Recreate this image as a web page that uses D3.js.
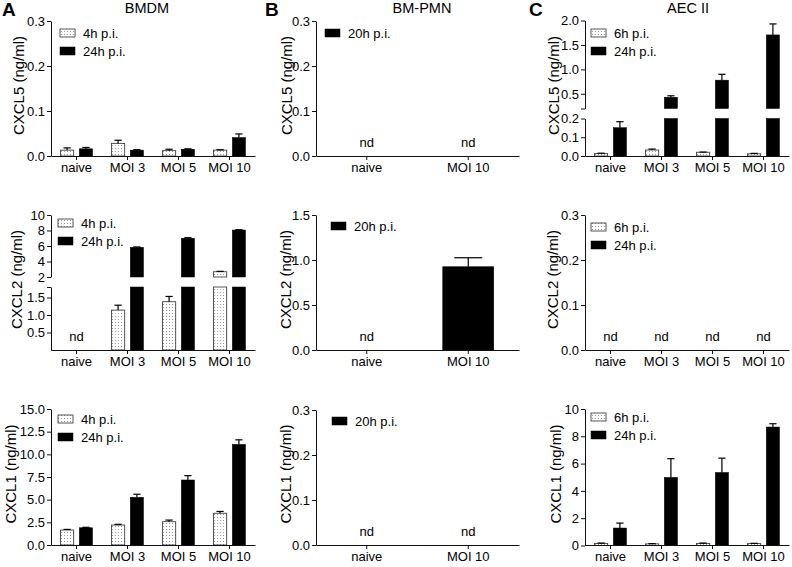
<!DOCTYPE html>
<html><head><meta charset="utf-8">
<script src="https://cdn.jsdelivr.net/npm/d3@7"></script>
<style>body{margin:0;background:#fff} svg{display:block} text{font-family:"Liberation Sans",Arial,Helvetica,sans-serif;fill:#000}</style>
</head><body><svg id="c" width="792" height="567"></svg>
<script>
// ---------- DATA ----------
const cats4 = ["naive", "MOI 3", "MOI 5", "MOI 10"];
const cats2 = ["naive", "MOI 10"];
const colTitles = ["BMDM", "BM-PMN", "AEC II"];
const colLetters = ["A", "B", "C"];

// BMDM (null = nd)
const bmdmCxcl5_4h = [0.013, 0.028, 0.012, 0.013];
const bmdmCxcl5_4hSem = [0.005, 0.007, 0.003, 0.001];
const bmdmCxcl5_24h = [0.016, 0.013, 0.015, 0.041];
const bmdmCxcl5_24hSem = [0.003, 0.001, 0.001, 0.008];
const bmdmCxcl2_4h = [null, 1.14, 1.38, 2.68];
const bmdmCxcl2_4hSem = [0, 0.14, 0.15, 0.05];
const bmdmCxcl2_24h = [null, 5.83, 7.0, 8.06];
const bmdmCxcl2_24hSem = [0, 0.05, 0.07, 0.04];
const bmdmCxcl1_4h = [1.65, 2.2, 2.57, 3.5];
const bmdmCxcl1_4hSem = [0.07, 0.08, 0.18, 0.2];
const bmdmCxcl1_24h = [1.9, 5.26, 7.17, 11.1];
const bmdmCxcl1_24hSem = [0.05, 0.34, 0.48, 0.5];

// BM-PMN
const pmnCxcl5_20h = [null, null];
const pmnCxcl2_20h = [null, 0.925];
const pmnCxcl2_20hSem = [0, 0.1];
const pmnCxcl1_20h = [null, null];

// AEC II
const aecCxcl5_6h = [0.013, 0.032, 0.02, 0.012];
const aecCxcl5_6hSem = [0.002, 0.005, 0.001, 0.002];
const aecCxcl5_24h = [0.151, 0.43, 0.78, 1.705];
const aecCxcl5_24hSem = [0.032, 0.03, 0.12, 0.225];
const aecCxcl2_6h = [null, null, null, null];
const aecCxcl2_24h = [null, null, null, null];
const aecCxcl1_6h = [0.15, 0.12, 0.15, 0.14];
const aecCxcl1_6hSem = [0.03, 0.02, 0.03, 0.02];
const aecCxcl1_24h = [1.28, 4.99, 5.35, 8.68];
const aecCxcl1_24hSem = [0.36, 1.37, 1.05, 0.24];

// tick labels
const ticks03 = [0, 0.1, 0.2, 0.3];
const ticksA2lo = [0.5, 1.0, 1.5];
const ticksA2hi = [2, 4, 6, 8, 10];
const ticksA1 = [0, 2.5, 5, 7.5, 10, 12.5, 15];
const ticksB2 = [0, 0.5, 1.0, 1.5];
const ticksC5lo = [0, 0.1, 0.2];
const ticksC5hi = [0.5, 1.0, 1.5, 2.0];
const ticksC1 = [0, 2, 4, 6, 8, 10];

// ---------- LAYOUT ----------
const cols = [{x0: 51, x1: 255, tx: 147, lx: 2}, {x0: 316, x1: 519, tx: 422, lx: 265}, {x0: 585, x1: 789, tx: 688, lx: 529}];
const rows = [{top: 21, bot: 156}, {top: 215, bot: 350}, {top: 409, bot: 545}];

const S = (name, vals, sem, stip) => ({name, vals, sem: sem || vals.map(() => 0), stip});

const panels = [
  {c: 0, r: 0, cats: cats4, label: "CXCL5 (ng/ml)", tdx: -27, leg: [60, 29],
   series: [S("4h p.i.", bmdmCxcl5_4h, bmdmCxcl5_4hSem, true), S("24h p.i.", bmdmCxcl5_24h, bmdmCxcl5_24hSem, false)],
   segs: [{domain: [0, 0.3], range: [156, 21], ticks: ticks03, fmt: ".1f"}]},
  {c: 0, r: 1, cats: cats4, label: "CXCL2 (ng/ml)", tdx: -29, leg: [58, 219],
   series: [S("4h p.i.", bmdmCxcl2_4h, bmdmCxcl2_4hSem, true), S("24h p.i.", bmdmCxcl2_24h, bmdmCxcl2_24hSem, false)],
   segs: [{domain: [0, 1.8], range: [350, 287], ticks: ticksA2lo.concat([1.8]), blank: [1.8], fmt: ".1f"},
          {domain: [2, 10], range: [277, 215], ticks: ticksA2hi, fmt: "d"}]},
  {c: 0, r: 2, cats: cats4, label: "CXCL1 (ng/ml)", tdx: -35, leg: [58, 415],
   series: [S("4h p.i.", bmdmCxcl1_4h, bmdmCxcl1_4hSem, true), S("24h p.i.", bmdmCxcl1_24h, bmdmCxcl1_24hSem, false)],
   segs: [{domain: [0, 15], range: [545, 409], ticks: ticksA1, fmt: ".1f"}]},
  {c: 1, r: 0, cats: cats2, label: "CXCL5 (ng/ml)", tdx: -24, leg: [325, 29],
   series: [S("20h p.i.", pmnCxcl5_20h, null, false)],
   segs: [{domain: [0, 0.3], range: [156, 21], ticks: ticks03, fmt: ".1f"}]},
  {c: 1, r: 1, cats: cats2, label: "CXCL2 (ng/ml)", tdx: -25, leg: [331, 222],
   series: [S("20h p.i.", pmnCxcl2_20h, pmnCxcl2_20hSem, false)],
   segs: [{domain: [0, 1.5], range: [350, 215], ticks: ticksB2, fmt: ".1f"}]},
  {c: 1, r: 2, cats: cats2, label: "CXCL1 (ng/ml)", tdx: -25, leg: [332, 417],
   series: [S("20h p.i.", pmnCxcl1_20h, null, false)],
   segs: [{domain: [0, 0.3], range: [545, 410], ticks: ticks03, fmt: ".1f"}]},
  {c: 2, r: 0, cats: cats4, label: "CXCL5 (ng/ml)", tdx: -26, leg: [591, 29],
   series: [S("6h p.i.", aecCxcl5_6h, aecCxcl5_6hSem, true), S("24h p.i.", aecCxcl5_24h, aecCxcl5_24hSem, false)],
   segs: [{domain: [0, 0.2], range: [156, 118.5], ticks: ticksC5lo, fmt: ".1f"},
          {domain: [0.2, 2.0], range: [108.5, 20.5], ticks: [0.2].concat(ticksC5hi), blank: [0.2], fmt: ".1f"}]},
  {c: 2, r: 1, cats: cats4, label: "CXCL2 (ng/ml)", tdx: -27, leg: [591, 223],
   series: [S("6h p.i.", aecCxcl2_6h, null, true), S("24h p.i.", aecCxcl2_24h, null, false)],
   segs: [{domain: [0, 0.3], range: [350, 215], ticks: ticks03, fmt: ".1f"}]},
  {c: 2, r: 2, cats: cats4, label: "CXCL1 (ng/ml)", tdx: -24, leg: [591, 413],
   series: [S("6h p.i.", aecCxcl1_6h, aecCxcl1_6hSem, true), S("24h p.i.", aecCxcl1_24h, aecCxcl1_24hSem, false)],
   segs: [{domain: [0, 10], range: [545.5, 409], ticks: ticksC1, fmt: "d"}]},
];

// ---------- DRAW ----------
const svg = d3.select("#c");
const defs = svg.append("defs");
const pat = defs.append("pattern").attr("id", "dots").attr("width", 3).attr("height", 3).attr("patternUnits", "userSpaceOnUse");
pat.append("rect").attr("width", 3).attr("height", 3).attr("fill", "#fff");
pat.append("rect").attr("x", 1).attr("y", 1).attr("width", 1).attr("height", 1).attr("fill", "#9a9a9a");

const AX = "#111";

cols.forEach((c, i) => {
  svg.append("text").attr("x", c.lx).attr("y", 16).attr("font-size", 19).attr("font-weight", "bold").text(colLetters[i]);
  svg.append("text").attr("x", c.tx).attr("y", 13).attr("font-size", 14.5).attr("text-anchor", "middle").text(colTitles[i]);
});

panels.forEach(p => {
  const col = cols[p.c], row = rows[p.r];
  const g = svg.append("g");
  const x = d3.scaleBand().domain(p.cats).range([col.x0, col.x1]).padding(0);
  const bw = x.bandwidth();
  const ns = p.series.length;
  const inner = ns === 1 ? 51 : 32;
  const xi = d3.scaleBand().domain(p.series.map(s => s.name)).range([bw / 2 - inner / 2, bw / 2 + inner / 2]).paddingInner(ns === 1 ? 0 : 0.3);
  const barW = xi.bandwidth();
  const segs = p.segs.map(s => Object.assign({}, s, {scale: d3.scaleLinear().domain(s.domain).range(s.range)}));
  const segOf = v => segs.find(s => v <= s.domain[1]) || segs[segs.length - 1];

  // bars
  p.series.forEach(s => {
    s.vals.forEach((v, i) => {
      if (v == null) return;
      const bx = x(p.cats[i]) + xi(s.name);
      segs.forEach(sg => {
        if (v <= sg.domain[0]) return;
        const y0 = sg.scale(sg.domain[0]);
        const y1 = sg.scale(Math.min(v, sg.domain[1]));
        g.append("rect").attr("x", bx).attr("y", y1).attr("width", barW).attr("height", Math.max(0, y0 - y1))
          .attr("fill", s.stip ? "url(#dots)" : "#000")
          .attr("stroke", s.stip ? "#444" : "#000").attr("stroke-width", s.stip ? 0.9 : 0.5);
      });
      // error bar
      const e = v + (s.sem[i] || 0);
      if (e > v) {
        const cx = bx + barW / 2;
        const sv = segOf(v), se = segOf(e);
        if (sv === se) {
          g.append("line").attr("x1", cx).attr("x2", cx).attr("y1", sv.scale(v)).attr("y2", sv.scale(e)).attr("stroke", "#000").attr("stroke-width", 1.2);
        } else {
          g.append("line").attr("x1", cx).attr("x2", cx).attr("y1", se.scale(se.domain[0])).attr("y2", se.scale(e)).attr("stroke", "#000").attr("stroke-width", 1.2);
        }
        const cw = barW * 0.55;
        g.append("line").attr("x1", cx - cw / 2).attr("x2", cx + cw / 2).attr("y1", se.scale(e)).attr("y2", se.scale(e)).attr("stroke", "#000").attr("stroke-width", 1.2);
      }
    });
  });

  // nd labels
  p.cats.forEach((c, i) => {
    if (p.series.every(s => s.vals[i] == null)) {
      g.append("text").attr("x", x(c) + bw / 2).attr("y", row.bot - 9).attr("font-size", 13).attr("text-anchor", "middle").text("nd");
    }
  });

  // y axis segments
  segs.forEach(sg => {
    const f = d3.format(sg.fmt);
    const ax = d3.axisLeft(sg.scale).tickValues(sg.ticks).tickSize(4).tickPadding(2).tickSizeOuter(0)
      .tickFormat(d => (sg.blank && sg.blank.includes(d)) ? "" : f(d));
    const ag = g.append("g").attr("transform", `translate(${col.x0},0)`).call(ax);
    ag.selectAll("text").attr("font-size", 13).attr("fill", "#000").style("font-family", '"Liberation Sans",Arial,sans-serif');
    ag.selectAll("path,line").attr("stroke", AX).attr("stroke-width", 1);
  });

  // x axis
  const xa = d3.axisBottom(x).tickSize(4).tickPadding(3).tickSizeOuter(0);
  const xg = g.append("g").attr("transform", `translate(0,${row.bot})`).call(xa);
  xg.selectAll("text").attr("font-size", 13).attr("fill", "#000").style("font-family", '"Liberation Sans",Arial,sans-serif');
  xg.selectAll("path,line").attr("stroke", AX).attr("stroke-width", 1);

  // y label
  g.append("text").attr("transform", `translate(${col.x0 + p.tdx},${(row.top + row.bot) / 2 - 3}) rotate(-90)`)
    .attr("font-size", 15).attr("text-anchor", "middle").text(p.label);

  // legend
  p.series.forEach((s, k) => {
    const lx = p.leg[0], ly = p.leg[1] + k * 18;
    g.append("rect").attr("x", lx).attr("y", ly).attr("width", 15).attr("height", 8)
      .attr("fill", s.stip ? "url(#dots)" : "#000").attr("stroke", s.stip ? "#444" : "#000").attr("stroke-width", s.stip ? 0.9 : 0.5);
    g.append("text").attr("x", lx + 23).attr("y", ly + 8.5).attr("font-size", 13).text(s.name);
  });
});
</script></body></html>
